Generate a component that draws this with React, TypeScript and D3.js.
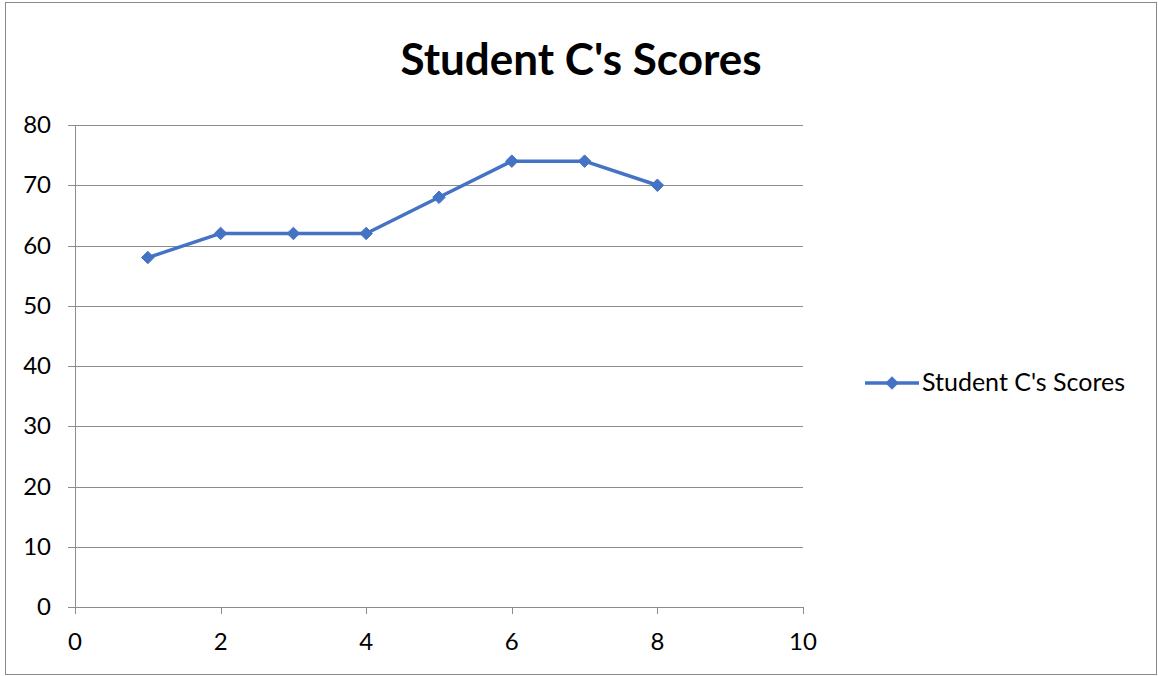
import React from 'react';
import * as d3 from 'd3';

// values
const weeks = [1, 2, 3, 4, 5, 6, 7, 8];
const scores = [58, 62, 62, 62, 68, 74, 74, 70];
const xTicks = [0, 2, 4, 6, 8, 10];
const yTicks = [0, 10, 20, 30, 40, 50, 60, 70, 80];
const seriesName = "Student C's Scores";
const title = "Student C's Scores";

const W = 1158;
const H = 676;
const font = 'Lato, "Open Sans", "Noto Sans", sans-serif';
const blue = '#4472C4';

export default function App() {
	const x = d3.scaleLinear().domain([0, 10]).range([75, 803]);
	const y = d3.scaleLinear().domain([0, 80]).range([607, 125]);

	const pts = weeks.map((w, i) => [x(w), y(scores[i])] as [number, number]);
	const line = d3.line()(pts);
	const diamond = d3.symbol().type(d3.symbolDiamond2).size(100)();

	return (
		<svg width={W} height={H} style={{position: 'absolute', left: 0, top: 0}}>
			<rect x={5.5} y={2.5} width={1151} height={672} fill="#fff" stroke="#898989" strokeWidth={1}/>
			<text x={581} y={75} textAnchor="middle" fontFamily={font} fontWeight="bold" fontSize={44}>{title}</text>

			{/* grid */}
			<g>
				{yTicks.map(t => (
					<line key={t} x1={68} x2={803} y1={Math.round(y(t)) + 0.5} y2={Math.round(y(t)) + 0.5}
						stroke="#8c8c8c" strokeWidth={1}/>
				))}
				<line x1={75.5} x2={75.5} y1={125} y2={607} stroke="#8c8c8c"/>
				{xTicks.map(t => (
					<line key={t} x1={Math.round(x(t)) + 0.5} x2={Math.round(x(t)) + 0.5} y1={607} y2={614}
						stroke="#8c8c8c"/>
				))}
			</g>

			{/* labels */}
			<g fontFamily={font} fontSize={24} fill="#000">
				{yTicks.map(t => (
					<text key={t} x={51} y={y(t) + 8} textAnchor="end">{t}</text>
				))}
				{xTicks.map(t => (
					<text key={t} x={x(t)} y={650} textAnchor="middle">{t}</text>
				))}
			</g>

			{/* series */}
			<path d={line || ''} fill="none" stroke={blue} strokeWidth={3.5} strokeLinejoin="round"/>
			{pts.map((p, i) => (
				<path key={i} d={diamond || ''} transform={`translate(${p[0]},${p[1]})`} fill={blue} stroke={blue}/>
			))}

			{/* legend */}
			<line x1={865} x2={919} y1={383} y2={383} stroke={blue} strokeWidth={3.5}/>
			<path d={diamond || ''} transform="translate(892,383)" fill={blue} stroke={blue}/>
			<text x={922} y={391} fontFamily={font} fontSize={25}>{seriesName}</text>
		</svg>
	);
}
